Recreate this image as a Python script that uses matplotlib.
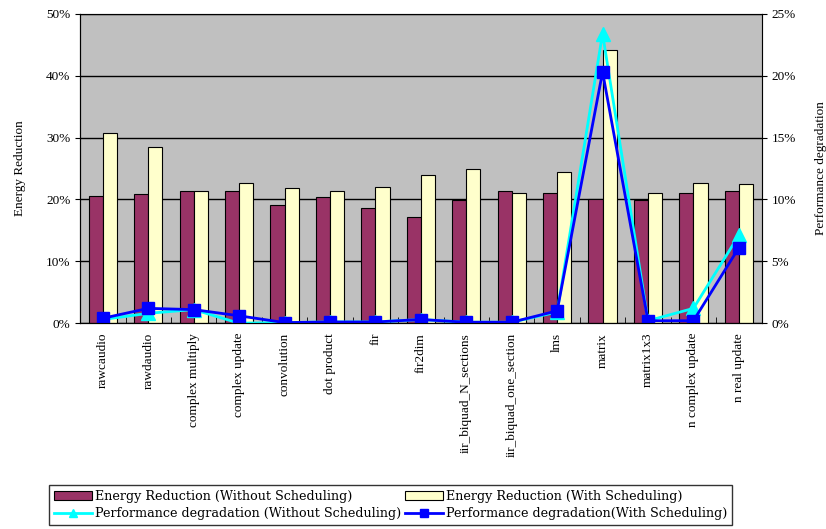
import numpy as np
import matplotlib.pyplot as plt

plt.rcParams['font.family'] = ['Liberation Serif', 'DejaVu Serif']

benchmarks = ['rawcaudio', 'rawdaudio', 'complex multiply', 'complex update',
              'convolution', 'dot product', 'fir', 'fir2dim',
              'iir_biquad_N_sections', 'iir_biquad_one_section', 'lms',
              'matrix', 'matrix1x3', 'n complex update', 'n real update']

# energy reduction (%), left axis
energy_without = [20.6, 20.9, 21.3, 21.3, 19.1, 20.4, 18.6, 17.2,
                  19.9, 21.3, 21.1, 20.1, 19.9, 21.1, 21.3]
energy_with = [30.8, 28.5, 21.3, 22.7, 21.8, 21.3, 22.0, 24.0,
               24.9, 21.1, 24.5, 44.1, 21.1, 22.7, 22.5]

# performance degradation (%), right axis
perf_without = [0.3, 0.8, 1.1, 0.0, 0.05, 0.1, 0.1, 0.3,
                0.08, 0.08, 0.9, 23.4, 0.2, 1.2, 7.1]
perf_with = [0.4, 1.2, 1.1, 0.6, 0.05, 0.1, 0.1, 0.3,
             0.08, 0.08, 1.0, 20.3, 0.2, 0.2, 6.1]

x = np.arange(len(benchmarks))
w = 0.31

fig = plt.figure(figsize=(8.26, 5.29), dpi=100)
ax = fig.add_axes([0.097, 0.389, 0.825, 0.585])
ax.set_facecolor('#C0C0C0')
ax.set_axisbelow(True)
ax.yaxis.grid(True, color='black', linewidth=1)

b1 = ax.bar(x - w/2, energy_without, w, color='#993366', edgecolor='black', linewidth=0.8,
            label='Energy Reduction (Without Scheduling)')
b2 = ax.bar(x + w/2, energy_with, w, color='#FFFFCC', edgecolor='black', linewidth=0.8,
            label='Energy Reduction (With Scheduling)')
ax.set_xlim(-0.5, len(benchmarks) - 0.5)
ax.set_ylim(0, 50)
ax.set_yticks(range(0, 51, 10))
ax.set_yticklabels(['%d%%' % v for v in range(0, 51, 10)], fontsize=9.5)
ax.set_xticks(x)
ax.set_xticklabels(benchmarks, rotation=90, fontsize=9.5)
ax.tick_params(axis='x', length=0, pad=7)
ax.set_xticks(np.arange(-0.5, len(benchmarks)), minor=True)
ax.tick_params(axis='x', which='minor', length=4, direction='in')
ax.set_ylabel('Energy Reduction', fontsize=9.5, labelpad=14)
for s in ['top', 'right']:
    ax.spines[s].set_color('#808080')

ax2 = ax.twinx()
l1, = ax2.plot(x, perf_without, color='#00FFFF', linewidth=2, marker='^', markersize=10,
               label='Performance degradation (Without Scheduling)')
l2, = ax2.plot(x, perf_with, color='#0000FF', linewidth=2, marker='s', markersize=9,
               label='Performance degradation(With Scheduling)')
ax2.set_ylim(0, 25)
ax2.set_yticks(range(0, 26, 5))
ax2.set_yticklabels(['%d%%' % v for v in range(0, 26, 5)], fontsize=9.5)
ax2.set_ylabel('Performance degradation', fontsize=9.5, labelpad=14)
ax2.spines['right'].set_color('black')

leg = fig.legend(handles=[b1, l1, b2, l2], ncol=2, loc='lower left',
                 bbox_to_anchor=(0.056, 0.002),
                 prop={'family': 'DejaVu Serif', 'size': 9.2},
                 frameon=True, fancybox=False, edgecolor='black', markerscale=0.6,
                 handlelength=3, handletextpad=0.2, columnspacing=0.3,
                 borderaxespad=0.2, labelspacing=0.3, borderpad=0.4)
leg.get_frame().set_linewidth(1)

fig.savefig('out.png', dpi=100)
